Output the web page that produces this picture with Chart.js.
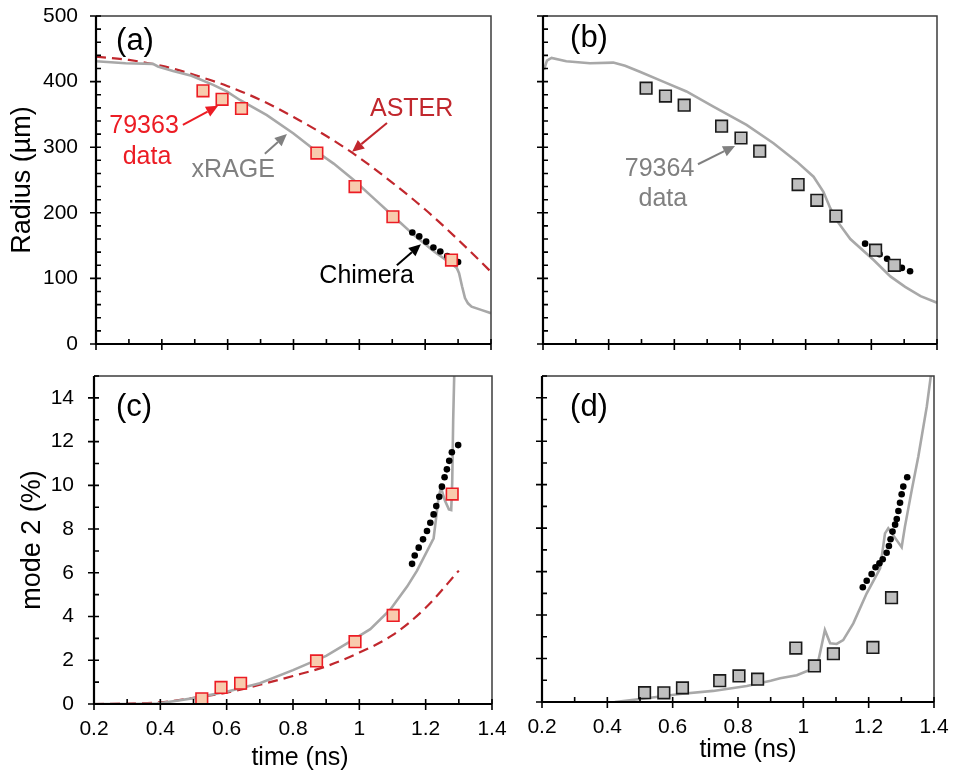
<!DOCTYPE html>
<html>
<head>
<meta charset="utf-8">
<script src="https://cdn.jsdelivr.net/npm/chart.js@4.4.0/dist/chart.umd.min.js"></script>
<style>
html,body{margin:0;padding:0;background:#fff;}
#wrap{position:relative;width:954px;height:774px;overflow:hidden;background:#fff;}
#wrap canvas{position:absolute;}
</style>
</head>
<body>
<div id="wrap">
<canvas id="cA" width="520" height="360" style="left:0;top:0;width:520px;height:360px"></canvas>
<canvas id="cB" width="474" height="360" style="left:480px;top:0;width:474px;height:360px"></canvas>
<canvas id="cC" width="520" height="414" style="left:0;top:360px;width:520px;height:414px"></canvas>
<canvas id="cD" width="474" height="414" style="left:480px;top:360px;width:474px;height:414px"></canvas>
</div>
<script>
// axis ticks
var timeTicks = [0.2, 0.4, 0.6, 0.8, 1, 1.2, 1.4];
var radiusTicks = [0, 100, 200, 300, 400, 500];
var modeTicks = [0, 2, 4, 6, 8, 10, 12, 14];

// shot 79363 measurements (panels a, c)
var t63 = [0.525, 0.583, 0.642, 0.871, 0.987, 1.102, 1.280];
var r63 = [386, 373, 359, 291, 240, 194, 128];
var m63 = [0.24, 0.76, 0.95, 1.97, 2.85, 4.05, 9.6];

// shot 79364 measurements (panels b, d)
var t64 = [0.514, 0.573, 0.630, 0.744, 0.803, 0.860, 0.977, 1.034, 1.092, 1.213, 1.270];
var r64 = [390, 378, 364, 332, 314, 294, 243, 219, 195, 143, 120];
var m64 = [0.43, 0.42, 0.65, 0.98, 1.2, 1.05, 2.48, 1.66, 2.22, 2.51, 4.8];

// xRAGE radius, 79363
var tRageA = [0.2, 0.29, 0.373, 0.388, 0.434, 0.49, 0.556, 0.597, 0.637, 0.719, 0.8, 0.871, 0.922, 0.983, 1.044, 1.105, 1.166, 1.227, 1.278, 1.296, 1.303, 1.312, 1.321, 1.33, 1.341, 1.37, 1.4];
var rRageA = [431, 428, 427, 423, 416, 409, 395, 385, 372, 349, 321, 293, 275, 250, 222, 194, 166, 141, 123, 116, 108, 88, 70, 62, 57, 52, 47];

// ASTER radius, 79363
var tAsterA = [0.2, 0.3, 0.4, 0.5, 0.6, 0.7, 0.8, 0.9, 1.0, 1.1, 1.2, 1.3, 1.4];
var rAsterA = [438, 433, 424, 410, 393, 372, 346, 317, 284, 246, 205, 159, 110];

// Chimera radius, 79363
var tChimA = [1.161, 1.182, 1.203, 1.225, 1.246, 1.267, 1.289, 1.300];
var rChimA = [170, 164, 156, 147, 141, 134, 129, 125];

// xRAGE radius, 79364
var tRageB = [0.203, 0.212, 0.226, 0.271, 0.343, 0.414, 0.45, 0.495, 0.566, 0.637, 0.719, 0.82, 0.902, 0.973, 1.024, 1.054, 1.075, 1.095, 1.136, 1.207, 1.258, 1.303, 1.35, 1.4];
var rRageB = [418, 432, 436, 431, 428, 429, 424, 415, 400, 385, 362, 334, 306, 278, 255, 232, 207, 188, 160, 128, 103, 87, 73, 63];

// Chimera radius, 79364
var tChimB = [1.181, 1.203, 1.225, 1.248, 1.270, 1.293, 1.318];
var rChimB = [153, 145, 137, 130, 123, 116, 111];

// xRAGE mode 2, 79363
var tRageC = [0.2, 0.3, 0.39, 0.45, 0.5, 0.6, 0.7, 0.8, 0.9, 0.973, 1.033, 1.093, 1.144, 1.174, 1.224, 1.239, 1.246, 1.258, 1.270, 1.277, 1.280, 1.283, 1.287];
var mRageC = [0, 0, 0.02, 0.15, 0.27, 0.56, 0.95, 1.55, 2.2, 2.86, 3.42, 4.31, 5.37, 6.1, 7.58, 9.45, 9.9, 9.3, 8.9, 8.87, 10.1, 13.0, 15.6];

// ASTER mode 2, 79363
var tAsterC = [0.2, 0.3, 0.4, 0.5, 0.6, 0.7, 0.8, 0.9, 1.0, 1.1, 1.2, 1.3];
var mAsterC = [0, 0.02, 0.08, 0.28, 0.52, 0.88, 1.28, 1.72, 2.35, 3.15, 4.4, 6.1];

// Chimera mode 2, 79363
var tChimC = [1.159, 1.167, 1.179, 1.192, 1.204, 1.214, 1.224, 1.232, 1.241, 1.249, 1.257, 1.264, 1.271, 1.279, 1.298];
var mChimC = [6.41, 6.79, 7.15, 7.53, 7.91, 8.29, 8.67, 9.05, 9.48, 9.94, 10.37, 10.73, 11.12, 11.51, 11.84];

// xRAGE mode 2, 79364
var tRageD = [0.423, 0.52, 0.622, 0.724, 0.827, 0.9, 0.929, 0.98, 1.031, 1.046, 1.056, 1.066, 1.082, 1.102, 1.122, 1.153, 1.194, 1.224, 1.235, 1.25, 1.26, 1.301, 1.311, 1.332, 1.352, 1.378, 1.392];
var mRageD = [0, 0.17, 0.37, 0.51, 0.74, 0.98, 1.09, 1.23, 1.54, 1.9, 2.6, 3.31, 2.7, 2.67, 2.85, 3.62, 5.0, 5.84, 6.15, 7.76, 7.99, 7.12, 8.07, 9.76, 11.3, 13.6, 15.2];

// Chimera mode 2, 79364
var tChimD = [1.182, 1.194, 1.209, 1.221, 1.233, 1.243, 1.255, 1.262, 1.267, 1.273, 1.281, 1.286, 1.291, 1.296, 1.301, 1.306, 1.318];
var mChimD = [5.28, 5.58, 5.89, 6.2, 6.38, 6.57, 6.87, 7.18, 7.49, 7.84, 8.16, 8.42, 8.79, 9.17, 9.56, 9.91, 10.34];

var RED = '#ec1c24', DKRED = '#c1272d', GREY = '#a8a8a8', TXTGREY = '#808080';
var FONT = "'Liberation Sans', Arial, sans-serif";

Chart.defaults.font.family = FONT;
Chart.defaults.color = '#000';

function pts(xs, ys){
    var a = [];
    for (var i = 0; i < xs.length; i++) a.push({x: xs[i], y: ys[i]});
    return a;
}

function curve(xs, ys, color, dash, order, smooth){
    return {
        data: pts(xs, ys), showLine: true, borderColor: color, borderWidth: dash ? 2.2 : 2.6,
        borderDash: dash || [], pointRadius: 0, order: order,
        cubicInterpolationMode: smooth ? 'monotone' : 'default', tension: 0
    };
}

function squares(xs, ys, fill, edge){
    return {
        data: pts(xs, ys), pointStyle: 'rect', pointRadius: 8.2, borderWidth: 1.6,
        backgroundColor: fill, borderColor: edge, order: 0
    };
}

function dots(xs, ys){
    return {data: pts(xs, ys), pointRadius: 3.3, borderWidth: 0, backgroundColor: '#000', borderColor: '#000', order: 1};
}

// frame, tick marks, panel letter, axis title and callouts
var panelDeco = {
    id: 'panelDeco',
    afterDatasetsDraw: function(chart, args, o){
        var ctx = chart.ctx, a = chart.chartArea, xs = chart.scales.x, ys = chart.scales.y;
        var i, n, p;
        ctx.save();
        ctx.lineCap = 'butt';
        ctx.lineWidth = 1.5; ctx.strokeStyle = '#3c3c3c';
        ctx.beginPath(); ctx.moveTo(a.left, a.top); ctx.lineTo(a.right, a.top); ctx.lineTo(a.right, a.bottom); ctx.stroke();
        ctx.lineWidth = 2.2; ctx.strokeStyle = '#000';
        ctx.beginPath(); ctx.moveTo(a.left, a.top); ctx.lineTo(a.left, a.bottom); ctx.lineTo(a.right, a.bottom); ctx.stroke();

        // majors cross the axis, minors sit inside
        ctx.lineWidth = 1.6;
        ctx.beginPath();
        n = Math.round((xs.max - xs.min) / o.xMinor);
        for (i = 0; i <= n; i++) {
            p = xs.getPixelForValue(xs.min + i * o.xMinor);
            ctx.moveTo(p, a.bottom - 5);
            ctx.lineTo(p, i % o.xEvery === 0 ? a.bottom + 6 : a.bottom);
        }
        n = Math.round((ys.max - ys.min) / o.yMinor);
        for (i = 0; i <= n; i++) {
            p = ys.getPixelForValue(ys.min + i * o.yMinor);
            ctx.moveTo(a.left + 5, p);
            ctx.lineTo(i % o.yEvery === 0 ? a.left - 6 : a.left, p);
        }
        ctx.stroke();

        ctx.fillStyle = '#000';
        ctx.textAlign = 'center'; ctx.textBaseline = 'middle';
        ctx.font = '31px ' + FONT;
        ctx.fillText(o.tag, a.left + o.tagDx, a.top + o.tagDy);

        if (o.xTitle) {
            ctx.font = '25px ' + FONT;
            ctx.fillText(o.xTitle, (a.left + a.right) / 2 + o.xTitleDx, a.bottom + o.xTitleDy);
        }

        ctx.textBaseline = 'alphabetic';
        ctx.font = '25px ' + FONT;
        (o.notes || []).forEach(function(t){
            ctx.fillStyle = t.color;
            ctx.fillText(t.text, xs.getPixelForValue(t.x), ys.getPixelForValue(t.y));
        });

        (o.arrows || []).forEach(function(r){
            var x0 = xs.getPixelForValue(r.x0), y0 = ys.getPixelForValue(r.y0);
            var x1 = xs.getPixelForValue(r.x1), y1 = ys.getPixelForValue(r.y1);
            var ang = Math.atan2(y1 - y0, x1 - x0), hl = 12, hw = 5.5;
            var bx = x1 - hl * Math.cos(ang), by = y1 - hl * Math.sin(ang);
            ctx.strokeStyle = r.color; ctx.fillStyle = r.color; ctx.lineWidth = 2;
            ctx.beginPath(); ctx.moveTo(x0, y0); ctx.lineTo(bx, by); ctx.stroke();
            ctx.beginPath();
            ctx.moveTo(x1, y1);
            ctx.lineTo(bx + hw * Math.sin(ang), by - hw * Math.cos(ang));
            ctx.lineTo(bx - hw * Math.sin(ang), by + hw * Math.cos(ang));
            ctx.closePath(); ctx.fill();
        });
        ctx.restore();
    }
};

function tickSetter(list){
    return function(s){ s.ticks = list.map(function(v){ return {value: v}; }); };
}

// fixed box sizes; label overhang must not shrink the plot area
function fixSize(dim, size){
    return function(s){
        s[dim] = size;
        s.paddingTop = s.paddingBottom = s.paddingLeft = s.paddingRight = 0;
    };
}

function makePanel(id, cfg){
    var c = document.getElementById(id);
    return new Chart(c, {
        type: 'scatter',
        data: {datasets: cfg.datasets},
        options: {
            responsive: false, animation: false, events: [],
            layout: {autoPadding: false, padding: {left: 0, top: 16, right: cfg.padRight, bottom: 0}},
            plugins: {
                legend: {display: false}, tooltip: {enabled: false},
                panelDeco: cfg.deco
            },
            scales: {
                x: {
                    type: 'linear', min: 0.2, max: 1.4,
                    grid: {display: false, drawTicks: false}, border: {display: false},
                    afterBuildTicks: tickSetter(timeTicks),
                    ticks: {display: cfg.xLabels, padding: 13, font: {size: 21}, color: '#000',
                        callback: function(v){ return String(v); }},
                    afterFit: fixSize('height', cfg.xHeight)
                },
                y: {
                    type: 'linear', min: cfg.yMin, max: cfg.yMax,
                    grid: {display: false, drawTicks: false}, border: {display: false},
                    afterBuildTicks: tickSetter(cfg.yTicks),
                    ticks: {display: cfg.yLabels, padding: cfg.yPad, font: {size: 21}, color: '#000'},
                    title: {display: !!cfg.yTitle, text: cfg.yTitle || '', font: {size: 27}, color: '#000',
                        padding: {top: cfg.yTitlePad || 0, bottom: 0}},
                    afterFit: fixSize('width', cfg.yWidth)
                }
            }
        },
        plugins: [panelDeco]
    });
}

makePanel('cA', {
    padRight: 29, xHeight: 16, yWidth: 96, xLabels: false, yLabels: true, yPad: 18,
    yMin: 0, yMax: 500, yTicks: radiusTicks, yTitle: 'Radius (\u00b5m)', yTitlePad: 6,
    datasets: [
        squares(t63, r63, '#f8cbad', RED),
        dots(tChimA, rChimA),
        curve(tRageA, rRageA, GREY, null, 2, false),
        curve(tAsterA, rAsterA, DKRED, [10, 6], 3, true)
    ],
    deco: {
        xMinor: 0.1, xEvery: 2, yMinor: 20, yEvery: 5, tag: '(a)', tagDx: 39, tagDy: 25,
        notes: [
            {text: '79363', x: 0.346, y: 321, color: RED},
            {text: 'data', x: 0.355, y: 274, color: RED},
            {text: 'ASTER', x: 1.159, y: 348, color: DKRED},
            {text: 'xRAGE', x: 0.617, y: 254, color: TXTGREY},
            {text: 'Chimera', x: 1.022, y: 93, color: '#000'}
        ],
        arrows: [
            {x0: 0.464, y0: 334, x1: 0.571, y1: 363, color: RED},
            {x0: 0.713, y0: 290, x1: 0.780, y1: 320, color: TXTGREY},
            {x0: 1.084, y0: 337, x1: 0.978, y1: 293, color: DKRED},
            {x0: 1.114, y0: 120, x1: 1.187, y1: 152, color: '#000'}
        ]
    }
});

makePanel('cB', {
    padRight: 17, xHeight: 16, yWidth: 63, xLabels: false, yLabels: false, yPad: 18,
    yMin: 0, yMax: 500, yTicks: radiusTicks,
    datasets: [
        squares(t64, r64, '#bfbfbf', '#1a1a1a'),
        dots(tChimB, rChimB),
        curve(tRageB, rRageB, GREY, null, 2, false)
    ],
    deco: {
        xMinor: 0.1, xEvery: 2, yMinor: 20, yEvery: 5, tag: '(b)', tagDx: 46, tagDy: 22,
        notes: [
            {text: '79364', x: 0.555, y: 256, color: TXTGREY},
            {text: 'data', x: 0.565, y: 210, color: TXTGREY}
        ],
        arrows: [
            {x0: 0.672, y0: 274, x1: 0.785, y1: 302, color: TXTGREY}
        ]
    }
});

makePanel('cC', {
    padRight: 28, xHeight: 70, yWidth: 94, xLabels: true, yLabels: true, yPad: 20,
    yMin: 0, yMax: 15, yTicks: modeTicks, yTitle: 'mode 2 (%)', yTitlePad: 16,
    datasets: [
        squares(t63, m63, '#f8cbad', RED),
        dots(tChimC, mChimC),
        curve(tRageC, mRageC, GREY, null, 2, false),
        curve(tAsterC, mAsterC, DKRED, [10, 6], 3, true)
    ],
    deco: {
        xMinor: 0.1, xEvery: 2, yMinor: 1, yEvery: 2, tag: '(c)', tagDx: 40, tagDy: 31,
        xTitle: 'time (ns)', xTitleDx: 7, xTitleDy: 54
    }
});

makePanel('cD', {
    padRight: 20, xHeight: 72, yWidth: 62, xLabels: true, yLabels: false, yPad: 20,
    yMin: 0, yMax: 15, yTicks: modeTicks,
    datasets: [
        squares(t64, m64, '#bfbfbf', '#1a1a1a'),
        dots(tChimD, mChimD),
        curve(tRageD, mRageD, GREY, null, 2, false)
    ],
    deco: {
        xMinor: 0.1, xEvery: 2, yMinor: 1, yEvery: 2, tag: '(d)', tagDx: 47, tagDy: 31,
        xTitle: 'time (ns)', xTitleDx: 10, xTitleDy: 48
    }
});
</script>
</body>
</html>
